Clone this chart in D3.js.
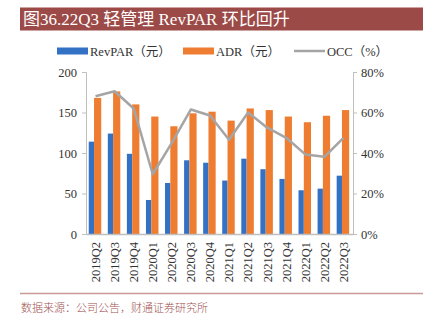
<!DOCTYPE html>
<html>
<head>
<meta charset="utf-8">
<script src="https://cdn.jsdelivr.net/npm/d3@7"></script>
<style>
  body { margin: 0; background: #fff; }
  svg { display: block; }
</style>
</head>
<body>
<div id="chart"></div>
<script>
// data
var quarters = ["2019Q2","2019Q3","2019Q4","2020Q1","2020Q2","2020Q3","2020Q4",
                "2021Q1","2021Q2","2021Q3","2021Q4","2022Q1","2022Q2","2022Q3"];
var revpar = [114, 124, 99, 42, 63, 91, 88, 66, 93, 80, 68, 54, 56, 72];
var adr = [168, 176, 160, 145, 133, 149, 151, 140, 155, 153, 145, 138, 146, 153];
var occ = [68, 70.5, 62, 29.5, 45, 61.5, 58.5, 46.5, 60, 52.5, 47.5, 39.3, 38.1, 47.5];
var leftTicks = [0, 50, 100, 150, 200];
var rightTicks = [0, 20, 40, 60, 80];

var W = 430, H = 322;
var margin = {top: 72, right: 77, bottom: 88, left: 86},
    width = W - margin.left - margin.right,
    height = H - margin.top - margin.bottom;

var svg = d3.select("#chart").append("svg")
    .attr("width", W).attr("height", H);

// title banner
svg.append("rect").attr("x", 20).attr("y", 7.5).attr("width", 403).attr("height", 23)
    .attr("fill", "#9C4A47");
svg.append("text").attr("x", 23).attr("y", 25)
    .attr("fill", "#fff")
    .style("font-family", "'Liberation Serif', 'Noto Sans CJK SC', serif")
    .style("font-size", "17px")
    .text("图36.22Q3 轻管理 RevPAR 环比回升");

var g = svg.append("g").attr("transform", "translate(" + margin.left + "," + margin.top + ")");

var x = d3.scaleBand().domain(quarters).range([0, width]);
var yL = d3.scaleLinear().domain([0, 200]).range([height, 0]);
var yR = d3.scaleLinear().domain([0, 80]).range([height, 0]);

var axisColor = "#BFBFBF";
var tickFont = "'Liberation Serif', 'DejaVu Serif', serif";

// left axis
var axL = g.append("g").call(d3.axisLeft(yL).tickValues(leftTicks).tickSize(4).tickPadding(5));
// right axis
var axR = g.append("g").attr("transform", "translate(" + width + ",0)")
    .call(d3.axisRight(yR).tickValues(rightTicks).tickSize(4).tickPadding(4)
        .tickFormat(function (d) { return d + "%"; }));
[axL, axR].forEach(function (a) {
    a.select(".domain").attr("stroke", axisColor);
    a.selectAll(".tick line").attr("stroke", axisColor);
    a.selectAll("text").attr("fill", "#333")
        .style("font-family", tickFont).style("font-size", "12.5px");
});

// bars
var bw = x.bandwidth();
g.append("g").selectAll("rect").data(revpar).enter().append("rect")
    .attr("x", function (d, i) { return x(quarters[i]) + bw / 2 - 6.8; })
    .attr("y", function (d) { return yL(d); })
    .attr("width", 5.3)
    .attr("height", function (d) { return height - yL(d); })
    .attr("fill", "#3371C5");
g.append("g").selectAll("rect").data(adr).enter().append("rect")
    .attr("x", function (d, i) { return x(quarters[i]) + bw / 2 - 1.5; })
    .attr("y", function (d) { return yL(d); })
    .attr("width", 7.2)
    .attr("height", function (d) { return height - yL(d); })
    .attr("fill", "#EE7D31");

// bottom axis
var axB = g.append("g").attr("transform", "translate(0," + height + ")")
    .call(d3.axisBottom(x).tickSize(0).tickPadding(0));
axB.select(".domain").attr("stroke", axisColor).attr("stroke-width", 1.5);
axB.selectAll("text")
    .attr("transform", "rotate(-90)")
    .attr("text-anchor", "end")
    .attr("dx", "-8")
    .attr("dy", "0.35em")
    .attr("y", 0)
    .attr("fill", "#333")
    .style("font-family", tickFont).style("font-size", "12.5px");

// occ line
var line = d3.line()
    .x(function (d, i) { return x(quarters[i]) + bw / 2; })
    .y(function (d) { return yR(d); });
g.append("path").datum(occ)
    .attr("d", line)
    .attr("fill", "none")
    .attr("stroke", "#A5A5A5")
    .attr("stroke-width", 2.5)
    .attr("stroke-linejoin", "round");

// legend
var legend = [
    {label: "RevPAR（元）", color: "#3371C5", type: "rect", x: 57},
    {label: "ADR（元）", color: "#EE7D31", type: "rect", x: 183},
    {label: "OCC（%）", color: "#A5A5A5", type: "line", x: 294}
];
var lg = svg.append("g").selectAll("g").data(legend).enter().append("g")
    .attr("transform", function (d) { return "translate(" + d.x + ",51)"; });
lg.each(function (d) {
    var s = d3.select(this);
    if (d.type === "rect") {
        s.append("rect").attr("x", 0).attr("y", -3.5).attr("width", 31).attr("height", 7).attr("fill", d.color);
    } else {
        s.append("line").attr("x1", 0).attr("x2", 31).attr("y1", 0).attr("y2", 0)
            .attr("stroke", d.color).attr("stroke-width", 2.5);
    }
    s.append("text").attr("x", 33).attr("y", 4.5)
        .attr("fill", "#333")
        .style("font-family", "'Liberation Serif', 'Noto Sans CJK SC', serif")
        .style("font-size", "12.5px")
        .text(d.label);
});

// footer
svg.append("line").attr("x1", 20).attr("x2", 423).attr("y1", 293.5).attr("y2", 293.5)
    .attr("stroke", "#C99A98").attr("stroke-width", 1.5);
svg.append("text").attr("x", 21).attr("y", 312)
    .attr("fill", "#A0524F")
    .style("font-family", "'Noto Sans CJK SC', sans-serif")
    .style("font-size", "11px")
    .style("font-weight", 300)
    .text("数据来源：公司公告，财通证券研究所");
</script>
</body>
</html>
